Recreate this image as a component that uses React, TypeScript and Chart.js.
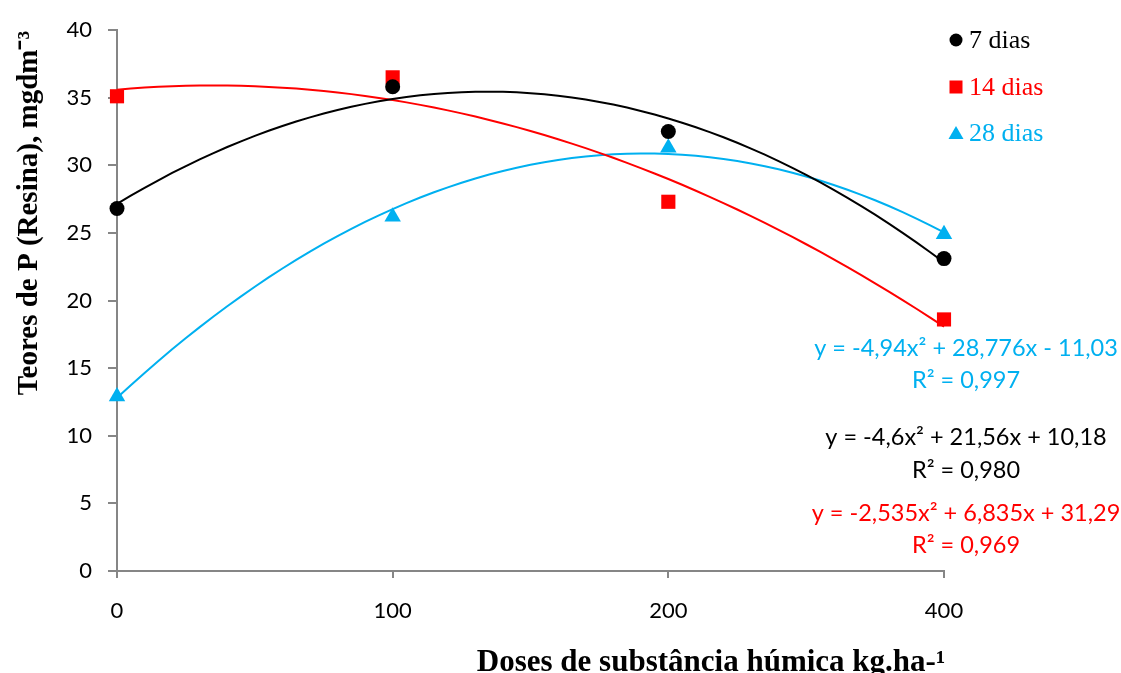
import React, { useEffect, useRef } from "react";
import { Chart, registerables } from "chart.js";

Chart.register(...registerables);

const xLabels = ["0", "100", "200", "400"];
const xIndex = [1, 2, 3, 4];
const seriesNames = ["7 dias", "14 dias", "28 dias"];
const seriesColors = ["#000000", "#FF0000", "#00B0F0"];
const seriesMarkers = ["circle", "rect", "triangle"];
const values7 = [26.8, 35.8, 32.5, 23.1];
const values14 = [35.1, 36.5, 27.3, 18.6];
const values28 = [12.9, 26.2, 31.3, 24.9];
// trendline coefficients [a, b, c] of y = a x^2 + b x + c (x = category index 1..4)
const coef7 = [-4.6, 21.56, 10.18];
const coef14 = [-2.535, 6.835, 31.29];
const coef28 = [-4.94, 28.776, -11.03];
const eqTexts = [
  { text: "y = -4,94x² + 28,776x - 11,03", r2: "R² = 0,997", color: "#00B0F0" },
  { text: "y = -4,6x² + 21,56x + 10,18", r2: "R² = 0,980", color: "#000000" },
  { text: "y = -2,535x² + 6,835x + 31,29", r2: "R² = 0,969", color: "#FF0000" },
];
const yTitle = "Teores de P (Resina), mgdm⁻³";
const xTitle = "Doses de substância húmica kg.ha-¹";

const allValues = [values7, values14, values28];
const allCoefs = [coef7, coef14, coef28];

function trend(c: number[]) {
  const pts: { x: number; y: number }[] = [];
  for (let i = 0; i <= 60; i++) {
    const x = 1 + (3 * i) / 60;
    pts.push({ x, y: c[0] * x * x + c[1] * x + c[2] });
  }
  return pts;
}

const overlay = {
  id: "overlay",
  afterDraw(chart: any) {
    const ctx = chart.ctx;
    ctx.save();
    // y title
    ctx.fillStyle = "#000";
    ctx.font = "bold 29px 'Liberation Serif'";
    ctx.textAlign = "center";
    ctx.textBaseline = "middle";
    ctx.save();
    ctx.translate(30, 213);
    ctx.rotate(-Math.PI / 2);
    ctx.fillText(yTitle, 0, 0);
    ctx.restore();
    // x title
    ctx.font = "bold 31px 'Liberation Serif'";
    ctx.textBaseline = "alphabetic";
    ctx.fillText(xTitle, 711, 671);
    // legend
    const ly = [40, 87, 133];
    ctx.font = "26px 'Liberation Serif'";
    ctx.textAlign = "left";
    ctx.textBaseline = "middle";
    seriesNames.forEach((n, i) => {
      ctx.fillStyle = seriesColors[i];
      const cx = 956, cy = ly[i];
      ctx.beginPath();
      if (seriesMarkers[i] === "circle") {
        ctx.arc(cx, cy, 6.5, 0, Math.PI * 2);
      } else if (seriesMarkers[i] === "rect") {
        ctx.rect(cx - 6.5, cy - 6.5, 13, 13);
      } else {
        ctx.moveTo(cx, cy - 7);
        ctx.lineTo(cx + 7.5, cy + 6);
        ctx.lineTo(cx - 7.5, cy + 6);
        ctx.closePath();
      }
      ctx.fill();
      ctx.fillText(n, 969, cy + 1);
    });
    // equations
    ctx.font = "23.5px Lato";
    ctx.textAlign = "center";
    const ey = [[348, 380], [437, 470], [513, 545]];
    eqTexts.forEach((e, i) => {
      ctx.fillStyle = e.color;
      ctx.fillText(e.text, 966, ey[i][0]);
      ctx.fillText(e.r2, 966, ey[i][1]);
    });
    ctx.restore();
  },
};

export default function App() {
  const ref = useRef<HTMLCanvasElement>(null);
  useEffect(() => {
    document.body.style.margin = "0";
    const datasets: any[] = [];
    allValues.forEach((vals, i) => {
      datasets.push({
        label: seriesNames[i],
        data: vals.map((v, j) => ({ x: xIndex[j], y: v })),
        showLine: false,
        pointStyle: seriesMarkers[i],
        pointRadius: seriesMarkers[i] === "circle" ? 7.5 : seriesMarkers[i] === "rect" ? 10 : 9.5,
        pointBackgroundColor: seriesColors[i],
        pointBorderColor: seriesColors[i],
        pointBorderWidth: 0,
        clip: false,
        order: 0,
      });
      datasets.push({
        label: seriesNames[i] + " trend",
        data: trend(allCoefs[i]),
        borderColor: seriesColors[i],
        borderWidth: 2,
        pointRadius: 0,
        fill: false,
        tension: 0,
        clip: false,
        order: 1,
      });
    });
    const chart = new Chart(ref.current!, {
      type: "line",
      data: { datasets },
      plugins: [overlay],
      options: {
        animation: false,
        responsive: false,
        layout: { padding: { top: 30, right: 177, left: 0, bottom: 0 } },
        plugins: { legend: { display: false }, tooltip: { enabled: false } },
        scales: {
          x: {
            type: "linear",
            min: 1,
            max: 4,
            afterFit: (s: any) => { s.height = 102; },
            ticks: {
              stepSize: 1,
              padding: 20,
              color: "#000",
              font: { family: "Lato", size: 22 },
              callback: (v: any) => xLabels[Number(v) - 1] ?? "",
            },
            grid: { drawOnChartArea: false, tickLength: 7, color: "#868686", lineWidth: 2 },
            border: { color: "#868686", width: 2 },
          },
          y: {
            min: 0,
            max: 40,
            afterFit: (s: any) => { s.width = 117; },
            ticks: {
              stepSize: 5,
              padding: 16,
              color: "#000",
              font: { family: "Lato", size: 22 },
            },
            grid: { drawOnChartArea: false, tickLength: 9, color: "#868686", lineWidth: 2 },
            border: { color: "#868686", width: 2 },
          },
        },
      },
    });
    return () => chart.destroy();
  }, []);
  return <canvas ref={ref} width={1121} height={673} style={{ display: "block" }} />;
}
